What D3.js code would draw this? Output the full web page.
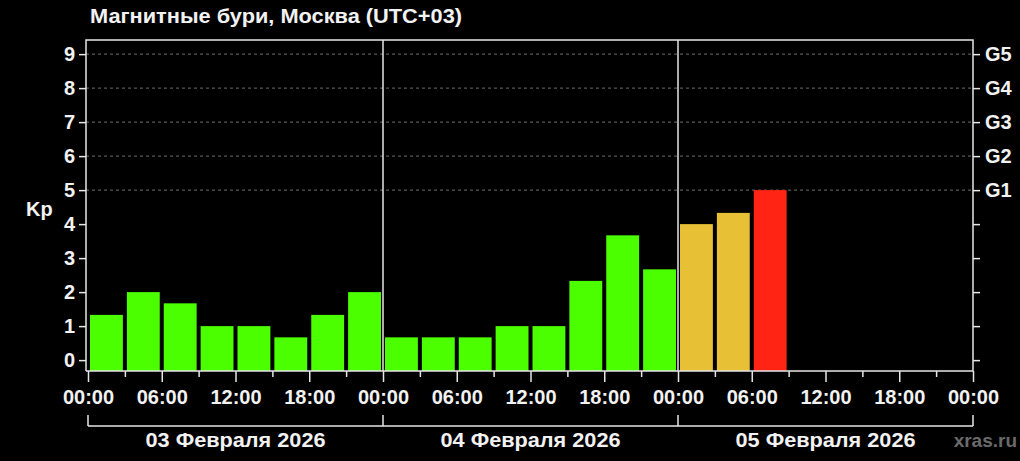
<!DOCTYPE html>
<html>
<head>
<meta charset="utf-8">
<script src="https://cdn.jsdelivr.net/npm/d3@7"></script>
<style>
  html, body { margin: 0; padding: 0; background: #000; }
  svg { display: block; }
  text { font-family: "Liberation Sans", Arial, sans-serif; font-weight: bold; fill: #f2f2f2; }
</style>
</head>
<body>
<script>
// Kp values per 3-hour interval, three days
const days = ["03 Февраля 2026", "04 Февраля 2026", "05 Февраля 2026"];
const kpValues = [
  1.33, 2, 1.67, 1, 1, 0.67, 1.33, 2,
  0.67, 0.67, 0.67, 1, 1, 2.33, 3.67, 2.67,
  4, 4.33, 5
];
const hourLabels = ["00:00", "06:00", "12:00", "18:00"];
const stormLevels = ["G1", "G2", "G3", "G4", "G5"];
const kpTicks = [0, 1, 2, 3, 4, 5, 6, 7, 8, 9];

const width = 1020, height = 461;
const plotLeft = 86, plotRight = 973, plotTop = 40, plotBottom = 371;

const svg = d3.select("body").append("svg")
    .attr("width", width)
    .attr("height", height);

svg.append("rect").attr("width", width).attr("height", height).attr("fill", "#000");

const x = d3.scaleLinear().domain([0, 72]).range([88, 973]);
const y = d3.scaleLinear().domain([-0.32, 9]).range([plotBottom, plotBottom - 9.32 * 34]);

function barColor(v) {
    if (v >= 5) return "#ff2414";
    if (v >= 4) return "#e8c036";
    return "#4cff00";
}

// dashed grid lines for storm levels
svg.append("g")
    .selectAll("line")
    .data(kpTicks.filter(d => d >= 5))
    .join("line")
    .attr("x1", plotLeft).attr("x2", plotRight)
    .attr("y1", d => y(d)).attr("y2", d => y(d))
    .attr("stroke", "#888")
    .attr("stroke-width", 0.8)
    .attr("stroke-dasharray", "3,3");

// bars
svg.append("g")
    .selectAll("rect")
    .data(kpValues)
    .join("rect")
    .attr("x", (d, i) => x(i * 3) + 2)
    .attr("width", (d, i) => x(i * 3 + 3) - x(i * 3) - 4)
    .attr("y", d => y(d))
    .attr("height", d => y(-0.32) - y(d))
    .attr("fill", d => barColor(d));

const axisColor = "#e6e6e6";

// frame
svg.append("path")
    .attr("d", `M${plotLeft},${plotBottom}V${plotTop}H${plotRight}V${plotBottom}H${plotLeft}`)
    .attr("fill", "none")
    .attr("stroke", axisColor)
    .attr("stroke-width", 1.5);

// day separators
svg.append("g")
    .selectAll("line")
    .data([24, 48])
    .join("line")
    .attr("x1", d => x(d)).attr("x2", d => x(d))
    .attr("y1", plotTop).attr("y2", plotBottom)
    .attr("stroke", axisColor)
    .attr("stroke-width", 1.5);

// left axis
const yAxis = svg.append("g")
    .attr("transform", `translate(${plotLeft},0)`)
    .call(d3.axisLeft(y).tickValues(kpTicks).tickSize(7).tickPadding(4).tickFormat(d3.format("d")));
yAxis.select(".domain").remove();
yAxis.selectAll("line").attr("stroke", axisColor).attr("stroke-width", 1.5);
yAxis.selectAll("text").attr("font-size", 20).attr("fill", "#f2f2f2").attr("font-family", null);

// right axis
const yAxisR = svg.append("g")
    .attr("transform", `translate(${plotRight},0)`)
    .call(d3.axisRight(y).tickValues(kpTicks).tickSize(7).tickPadding(5)
        .tickFormat(d => d >= 5 ? stormLevels[d - 5] : ""));
yAxisR.select(".domain").remove();
yAxisR.selectAll("line").attr("stroke", axisColor).attr("stroke-width", 1.5);
yAxisR.selectAll("text").attr("font-size", 20).attr("fill", "#f2f2f2").attr("font-family", null);

// bottom axis: major ticks every 6h, minor every 3h
const minor = svg.append("g")
    .attr("transform", `translate(0,${plotBottom})`)
    .call(d3.axisBottom(x).tickValues(d3.range(3, 72, 6)).tickSize(6).tickFormat(""));
minor.select(".domain").remove();
minor.selectAll("line").attr("stroke", axisColor).attr("stroke-width", 1.5);

const xAxis = svg.append("g")
    .attr("transform", `translate(0,${plotBottom})`)
    .call(d3.axisBottom(x).tickValues(d3.range(0, 73, 6)).tickSize(11).tickPadding(8)
        .tickFormat(d => hourLabels[(d % 24) / 6]));
xAxis.select(".domain").remove();
xAxis.selectAll("line").attr("stroke", axisColor).attr("stroke-width", 1.5);
xAxis.selectAll("text").attr("font-size", 20).attr("fill", "#f2f2f2").attr("font-family", null);

// day bracket
const bracketY = 426;
svg.append("line")
    .attr("x1", x(0)).attr("x2", x(72))
    .attr("y1", bracketY).attr("y2", bracketY)
    .attr("stroke", axisColor).attr("stroke-width", 1.5);
svg.append("g")
    .selectAll("line")
    .data([0, 24, 48, 72])
    .join("line")
    .attr("x1", d => x(d)).attr("x2", d => x(d))
    .attr("y1", bracketY - 11).attr("y2", bracketY)
    .attr("stroke", axisColor).attr("stroke-width", 1.5);

svg.append("g")
    .selectAll("text")
    .data(days)
    .join("text")
    .attr("x", (d, i) => x(i * 24 + 12))
    .attr("y", 447)
    .attr("text-anchor", "middle")
    .attr("font-size", 20)
    .attr("textLength", 180)
    .attr("lengthAdjust", "spacingAndGlyphs")
    .text(d => d);

// titles
svg.append("text")
    .attr("x", 90).attr("y", 23)
    .attr("font-size", 21)
    .attr("textLength", 372)
    .attr("lengthAdjust", "spacingAndGlyphs")
    .text("Магнитные бури, Москва (UTC+03)");

svg.append("text")
    .attr("x", 26).attr("y", 216)
    .attr("font-size", 20)
    .text("Kp");

svg.append("text")
    .attr("x", 1017).attr("y", 447)
    .attr("text-anchor", "end")
    .attr("font-size", 19)
    .style("fill", "#6a6a6a")
    .text("xras.ru");
</script>
</body>
</html>
